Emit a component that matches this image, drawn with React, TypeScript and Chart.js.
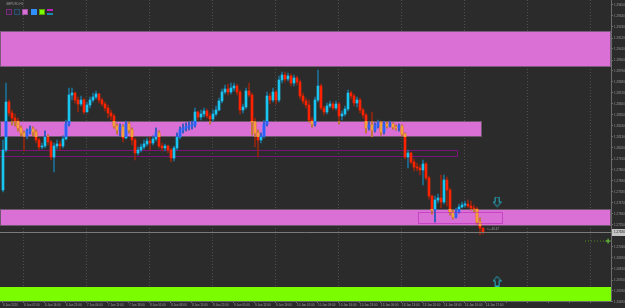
import React, { useEffect, useRef } from 'react';
import { Chart, registerables } from 'chart.js';

Chart.register(...registerables);

// ---------------- data ----------------
const symbolTitle = 'GBPUSD,H1';
const firstOpen = 1.2760;

const closes = [
  1.2800, 1.2848, 1.2837, 1.2832, 1.2829, 1.2822, 1.2817, 1.2814, 1.2819, 1.2821,
  1.2818, 1.2810, 1.2803, 1.2804, 1.2813, 1.2808, 1.2793, 1.2804, 1.2806, 1.2804,
  1.2811, 1.2826, 1.2855, 1.2857, 1.2850, 1.2846, 1.2850, 1.2838, 1.2845, 1.2850,
  1.2853, 1.2856, 1.2850, 1.2846, 1.2842, 1.2837, 1.2834, 1.2824, 1.2820, 1.2823,
  1.2812, 1.2826, 1.2820, 1.2810, 1.2797, 1.2800, 1.2803, 1.2806, 1.2809, 1.2807,
  1.2811, 1.2817, 1.2804, 1.2802, 1.2804, 1.2800, 1.2792, 1.2802, 1.2813, 1.2820,
  1.2822, 1.2823, 1.2824, 1.2825, 1.2838, 1.2833, 1.2836, 1.2839, 1.2834, 1.2831,
  1.2836, 1.2840, 1.2849, 1.2858, 1.2861, 1.2858, 1.2862, 1.2864, 1.2858, 1.2840,
  1.2843, 1.2859, 1.2855, 1.2828, 1.2817, 1.2810, 1.2814, 1.2826, 1.2854, 1.2850,
  1.2858, 1.2850, 1.2870, 1.2875, 1.2871, 1.2874, 1.2867, 1.2872, 1.2868, 1.2854,
  1.2849, 1.2845, 1.2830, 1.2826, 1.2850, 1.2864, 1.2842, 1.2838, 1.2844, 1.2846,
  1.2842, 1.2846, 1.2834, 1.2836, 1.2841, 1.2857, 1.2854, 1.2847, 1.2850, 1.2840,
  1.2835, 1.2822, 1.2825, 1.2820, 1.2824, 1.2827, 1.2818, 1.2826, 1.2824, 1.2826,
  1.2823, 1.2822, 1.2824, 1.2816, 1.2793, 1.2797, 1.2788, 1.2783, 1.2782, 1.2780,
  1.2786, 1.2772, 1.2754, 1.2740, 1.2750, 1.2752, 1.2748, 1.2770, 1.2760, 1.2738,
  1.2733, 1.2738, 1.2743, 1.2745, 1.2746, 1.2744, 1.2742, 1.2741, 1.2728, 1.2722, 1.2718,
];

const highs = [
  1.2810, 1.2867, 1.2850, 1.2840, 1.2836, 1.2832, 1.2824, 1.2819, 1.2821, 1.2824,
  1.2823, 1.2820, 1.2812, 1.2807, 1.2819, 1.2815, 1.2810, 1.2807, 1.2810, 1.2809,
  1.2814, 1.2830, 1.2862, 1.2862, 1.2858, 1.2853, 1.2854, 1.2852, 1.2848, 1.2853,
  1.2857, 1.2859, 1.2857, 1.2852, 1.2848, 1.2845, 1.2840, 1.2836, 1.2826, 1.2826,
  1.2825, 1.2829, 1.2828, 1.2822, 1.2812, 1.2803, 1.2806, 1.2810, 1.2812, 1.2813,
  1.2814, 1.2822, 1.2819, 1.2807, 1.2806, 1.2805, 1.2802, 1.2804, 1.2817, 1.2823,
  1.2826, 1.2827, 1.2828, 1.2829, 1.2842, 1.2839, 1.2840, 1.2842, 1.2841, 1.2837,
  1.2840, 1.2844, 1.2852, 1.2861, 1.2865, 1.2866, 1.2867, 1.2867, 1.2866, 1.2860,
  1.2846, 1.2862, 1.2867, 1.2857, 1.2832, 1.2820, 1.2817, 1.2830, 1.2858, 1.2857,
  1.2862, 1.2860, 1.2874, 1.2878, 1.2878, 1.2877, 1.2876, 1.2875, 1.2874, 1.2870,
  1.2857, 1.2852, 1.2850, 1.2833, 1.2853, 1.2880, 1.2866, 1.2844, 1.2847, 1.2849,
  1.2848, 1.2849, 1.2848, 1.2839, 1.2844, 1.2860, 1.2859, 1.2856, 1.2853, 1.2852,
  1.2842, 1.2837, 1.2828, 1.2838, 1.2827, 1.2830, 1.2829, 1.2829, 1.2828, 1.2829,
  1.2827, 1.2825, 1.2826, 1.2825, 1.2817, 1.2800, 1.2798, 1.2791, 1.2787, 1.2785,
  1.2790, 1.2788, 1.2774, 1.2755, 1.2754, 1.2756, 1.2775, 1.2775, 1.2773, 1.2762,
  1.2740, 1.2742, 1.2746, 1.2748, 1.2749, 1.2750, 1.2749, 1.2745, 1.2743, 1.2732, 1.2721,
];

const lows = [
  1.2758, 1.2798, 1.2834, 1.2825, 1.2824, 1.2819, 1.2814, 1.2799, 1.2811, 1.2816,
  1.2814, 1.2807, 1.2800, 1.2801, 1.2802, 1.2805, 1.2790, 1.2778, 1.2801, 1.2800,
  1.2802, 1.2810, 1.2824, 1.2850, 1.2847, 1.2838, 1.2844, 1.2836, 1.2838, 1.2842,
  1.2848, 1.2851, 1.2847, 1.2844, 1.2839, 1.2832, 1.2830, 1.2822, 1.2816, 1.2814,
  1.2808, 1.2811, 1.2817, 1.2805, 1.2790, 1.2795, 1.2798, 1.2801, 1.2804, 1.2800,
  1.2805, 1.2809, 1.2802, 1.2799, 1.2799, 1.2797, 1.2788, 1.2789, 1.2800, 1.2811,
  1.2817, 1.2819, 1.2820, 1.2821, 1.2823, 1.2830, 1.2830, 1.2833, 1.2832, 1.2826,
  1.2829, 1.2834, 1.2839, 1.2847, 1.2856, 1.2855, 1.2856, 1.2859, 1.2855, 1.2836,
  1.2837, 1.2841, 1.2853, 1.2815, 1.2803, 1.2793, 1.2807, 1.2812, 1.2824, 1.2846,
  1.2848, 1.2846, 1.2848, 1.2867, 1.2868, 1.2869, 1.2864, 1.2864, 1.2865, 1.2851,
  1.2846, 1.2842, 1.2828, 1.2823, 1.2824, 1.2848, 1.2840, 1.2835, 1.2836, 1.2842,
  1.2840, 1.2840, 1.2826, 1.2830, 1.2834, 1.2839, 1.2851, 1.2844, 1.2843, 1.2837,
  1.2832, 1.2817, 1.2820, 1.2813, 1.2818, 1.2822, 1.2815, 1.2816, 1.2822, 1.2823,
  1.2821, 1.2820, 1.2819, 1.2814, 1.2791, 1.2782, 1.2786, 1.2779, 1.2779, 1.2775,
  1.2765, 1.2770, 1.2751, 1.2736, 1.2728, 1.2747, 1.2742, 1.2746, 1.2744, 1.2735,
  1.2731, 1.2732, 1.2737, 1.2742, 1.2743, 1.2742, 1.2740, 1.2738, 1.2726, 1.2715, 1.2716,
];

const timeLabels = [
  '6 Jan 2020', '6 Jan 07:00', '6 Jan 14:00', '6 Jan 21:00', '7 Jan 04:00', '7 Jan 11:00',
  '7 Jan 18:00', '8 Jan 01:00', '8 Jan 08:00', '8 Jan 15:00', '8 Jan 22:00', '9 Jan 05:00',
  '9 Jan 12:00', '9 Jan 19:00', '10 Jan 02:00', '10 Jan 09:00', '10 Jan 16:00', '10 Jan 23:00',
  '13 Jan 06:00', '13 Jan 13:00', '13 Jan 20:00', '14 Jan 03:00', '14 Jan 10:00', '14 Jan 17:00',
];
const xTickIndex = [
  0, 7, 14, 21, 28, 35, 42, 49, 56, 63, 70, 77, 84, 91, 98, 105, 112, 119, 126, 133,
  140, 147, 154, 161, 168, 175, 182, 189, 196,
];
const yTickValues = [
  1.2945, 1.2934, 1.2923, 1.2912, 1.2901, 1.2890, 1.2879, 1.2868, 1.2857, 1.2846,
  1.2835, 1.2824, 1.2813, 1.2802, 1.2791, 1.2780, 1.2769, 1.2758, 1.2747, 1.2736,
  1.2725, 1.2703, 1.2692, 1.2681, 1.2670, 1.2659, 1.2648,
];

// supply / demand zones (price range, bar-index range; null = open to the edge)
const zoneHigh = [1.2919, 1.2829, 1.2741, 1.2663];
const zoneLow = [1.2883, 1.2813, 1.2724, 1.2600];
const zoneStart: (number | null)[] = [null, null, null, null];
const zoneEnd: (number | null)[] = [null, 159.7, null, null];

const outlineHigh = 1.2800;
const outlineLow = 1.2794;
const outlineEnd = 151.3;

const boxHigh = 1.2738;
const boxLow = 1.2727;
const boxStart = 138.3;
const boxEnd = 166.3;

const arrowIndex = [164.7, 164.7];
const arrowPrice = [1.2748, 1.2669];
const arrowDir = ['down', 'up'];

const levelFrom = 194;
const levelTo = 201.7;
const levelPrice = 1.2709;

const noteIndex = 161.3;
const notePrice = 1.2721;
const noteText = '<-- 46.47';

// ---------------- styles ----------------
const BG = '#2b2b2b';
const AXIS = '#6c6c6c';
const TEXT = '#9c9c9c';
const FONT = 'Liberation Sans';
const zoneFill = ['#da70d6', '#da70d6', '#da70d6', '#7cfc00'];
const zoneStroke = ['#7a5a7a', '#6e566e', '#6e566e', null];
const zoneTint = [true, true, true, false];
const C = {
  bullBody: '#19c6f2', bearBody: '#ff2200',
  bullWick: '#1b6f96', bearWick: '#93260e',
  bullZone: '#2f5dff', bearZone: '#f2a23a',
  bullZoneWick: '#3a58c8', bearZoneWick: '#c88a3a',
};

function zoneRects(chart: any) {
  const xs = chart.scales.x;
  const ys = chart.scales.y;
  const a = chart.chartArea;
  return zoneHigh.map((h, k) => {
    const s = zoneStart[k];
    const e = zoneEnd[k];
    const left = s == null ? a.left : Math.max(a.left, Math.round(xs.getPixelForValue(s)));
    const right = e == null ? a.right : Math.min(a.right, Math.round(xs.getPixelForValue(e)));
    const top = Math.round(ys.getPixelForValue(h));
    const bottom = Math.min(a.bottom, Math.round(ys.getPixelForValue(zoneLow[k])));
    return { left, right, top, bottom };
  });
}

const zonesPlugin = {
  id: 'zones',
  beforeDatasetsDraw(chart: any) {
    const ctx = chart.ctx;
    const a = chart.chartArea;
    const xs = chart.scales.x;
    const ys = chart.scales.y;
    ctx.save();
    zoneRects(chart).forEach((r, k) => {
      ctx.fillStyle = zoneFill[k];
      ctx.fillRect(r.left, r.top, r.right - r.left, r.bottom - r.top);
      const st = zoneStroke[k];
      if (st) {
        ctx.strokeStyle = st;
        ctx.lineWidth = 1;
        ctx.strokeRect(r.left + 0.5, r.top + 0.5, r.right - r.left - 1, r.bottom - r.top - 1);
      }
    });
    // thin purple outline zone
    const t = Math.round(ys.getPixelForValue(outlineHigh)) + 0.5;
    const b = Math.round(ys.getPixelForValue(outlineLow)) + 0.5;
    const r = Math.round(xs.getPixelForValue(outlineEnd)) + 0.5;
    ctx.strokeStyle = '#7c137c';
    ctx.lineWidth = 1;
    ctx.strokeRect(a.left - 1, t, r - a.left + 1, b - t);
    ctx.restore();
  },
};

const zoneClipPlugin = {
  id: 'zoneClip',
  beforeDatasetDraw(chart: any, args: any) {
    const ds = chart.data.datasets[args.index];
    if (!ds.zoneTint) return;
    const ctx = chart.ctx;
    ctx.save();
    ctx.beginPath();
    zoneRects(chart).forEach((r, k) => {
      if (zoneTint[k]) ctx.rect(r.left, r.top, r.right - r.left, r.bottom - r.top);
    });
    ctx.clip();
  },
  afterDatasetDraw(chart: any, args: any) {
    const ds = chart.data.datasets[args.index];
    if (ds.zoneTint) chart.ctx.restore();
  },
};

const bid = closes[closes.length - 1];

const overlayPlugin = {
  id: 'overlay',
  afterDatasetsDraw(chart: any) {
    const ctx = chart.ctx;
    const a = chart.chartArea;
    const xs = chart.scales.x;
    const ys = chart.scales.y;
    ctx.save();
    // bid line
    const by = Math.round(ys.getPixelForValue(bid)) + 0.5;
    ctx.strokeStyle = '#7a7a7a';
    ctx.lineWidth = 1;
    ctx.beginPath();
    ctx.moveTo(a.left, by);
    ctx.lineTo(a.right, by);
    ctx.stroke();
    // dotted rectangle
    const l = Math.round(xs.getPixelForValue(boxStart)) + 0.5;
    const r = Math.round(xs.getPixelForValue(boxEnd)) + 0.5;
    const t = Math.round(ys.getPixelForValue(boxHigh)) + 0.5;
    const b = Math.round(ys.getPixelForValue(boxLow)) + 0.5;
    ctx.setLineDash([1, 1]);
    ctx.strokeStyle = '#b018b0';
    ctx.strokeRect(l, t, r - l, b - t);
    ctx.setLineDash([]);
    // note text
    ctx.fillStyle = '#9a9a9a';
    ctx.font = `3px "${FONT}"`;
    ctx.textBaseline = 'middle';
    ctx.textAlign = 'left';
    ctx.fillText(noteText, xs.getPixelForValue(noteIndex), ys.getPixelForValue(notePrice));
    ctx.restore();
  },
  afterDraw(chart: any) {
    const ctx = chart.ctx;
    const a = chart.chartArea;
    const ys = chart.scales.y;
    const by = Math.round(ys.getPixelForValue(bid));
    ctx.save();
    ctx.fillStyle = '#c4c4c4';
    ctx.fillRect(a.right + 1, by - 3, chart.width - a.right - 1, 7);
    ctx.fillStyle = '#1a1a1a';
    ctx.font = `3px "${FONT}"`;
    ctx.textBaseline = 'middle';
    ctx.textAlign = 'left';
    ctx.fillText(bid.toFixed(5), a.right + 3, by + 0.5);
    ctx.restore();
  },
};

function makeArrow(dir: string): HTMLCanvasElement {
  const c = document.createElement('canvas');
  c.width = 9;
  c.height = 11;
  const g = c.getContext('2d')!;
  g.strokeStyle = '#22b5c8';
  g.lineWidth = 1;
  g.beginPath();
  if (dir === 'down') {
    g.moveTo(2.5, 0.5); g.lineTo(6.5, 0.5); g.lineTo(6.5, 5.5); g.lineTo(8.5, 5.5);
    g.lineTo(4.5, 10.2); g.lineTo(0.5, 5.5); g.lineTo(2.5, 5.5);
  } else {
    g.moveTo(2.5, 10.5); g.lineTo(6.5, 10.5); g.lineTo(6.5, 5.5); g.lineTo(8.5, 5.5);
    g.lineTo(4.5, 0.8); g.lineTo(0.5, 5.5); g.lineTo(2.5, 5.5);
  }
  g.closePath();
  g.stroke();
  return c;
}

export default function App() {
  const ref = useRef<HTMLCanvasElement>(null);

  useEffect(() => {
    const opens = closes.map((_, i) => (i === 0 ? firstOpen : closes[i - 1]));
    const bull = closes.map((c, i) => c >= opens[i]);
    const hi = closes.map((c, i) => Math.max(highs[i], c, opens[i]));
    const lo = closes.map((c, i) => Math.min(lows[i], c, opens[i]));
    const wickData = closes.map((_, i) => ({ x: i, y: [lo[i], hi[i]] }));
    const bodyData = closes.map((c, i) => ({ x: i, y: [opens[i], c] }));

    const bar = (data: any, thick: number, colors: string[], order: number, tint: boolean) => ({
      type: 'bar',
      data,
      backgroundColor: colors,
      borderWidth: 0,
      barThickness: thick,
      grouped: false,
      minBarLength: 1,
      order,
      zoneTint: tint,
    });

    const chart = new Chart(ref.current!, {
      type: 'bar',
      data: {
        datasets: [
          bar(wickData, 1, bull.map((b) => (b ? C.bullWick : C.bearWick)), 5, false),
          bar(bodyData, 2, bull.map((b) => (b ? C.bullBody : C.bearBody)), 4, false),
          bar(wickData, 1, bull.map((b) => (b ? C.bullZoneWick : C.bearZoneWick)), 3, true),
          bar(bodyData, 2, bull.map((b) => (b ? C.bullZone : C.bearZone)), 2, true),
          {
            type: 'line',
            data: [{ x: levelFrom, y: levelPrice }, { x: levelTo, y: levelPrice }],
            borderColor: '#4f8f22',
            borderWidth: 1,
            borderDash: [1, 2],
            pointRadius: [0, 2.5],
            pointStyle: 'cross',
            pointBorderColor: '#6fd23a',
            pointBorderWidth: 1,
            order: 1,
          },
          {
            type: 'scatter',
            data: arrowIndex.map((x, k) => ({ x, y: arrowPrice[k] })),
            pointStyle: arrowDir.map((d) => makeArrow(d)),
            pointRadius: 5,
            order: 0,
          },
        ] as any,
      },
      options: {
        animation: false,
        responsive: false,
        devicePixelRatio: 1,
        events: [],
        layout: { padding: 0, autoPadding: false },
        plugins: { legend: { display: false }, tooltip: { enabled: false } },
        scales: {
          x: {
            type: 'linear',
            min: -1,
            max: 202.67,
            offset: false,
            afterBuildTicks: (s: any) => {
              s.ticks = xTickIndex.map((v) => ({ value: v }));
            },
            afterFit: (s: any) => {
              s.height = 7;
              s.paddingLeft = 0;
              s.paddingRight = 0;
            },
            grid: {
              offset: false,
              color: (c: any) => (c.tick && (c.tick.value - 7) % 21 === 0 ? '#4e4e4e' : 'rgba(0,0,0,0)'),
              lineWidth: 1,
              drawTicks: true,
              tickLength: 2,
              tickColor: AXIS,
            },
            border: { display: true, color: AXIS, dash: [1, 2] },
            ticks: {
              autoSkip: false,
              maxRotation: 0,
              minRotation: 0,
              align: 'start',
              padding: 0,
              color: TEXT,
              font: { size: 3, family: FONT },
              callback: (_v: any, i: number) => timeLabels[i] ?? '',
            },
          },
          y: {
            type: 'linear',
            position: 'right',
            min: 1.2649,
            max: 1.2950,
            afterBuildTicks: (s: any) => {
              s.ticks = yTickValues.map((v) => ({ value: v }));
            },
            afterFit: (s: any) => {
              s.width = 14;
              s.paddingTop = 0;
              s.paddingBottom = 0;
            },
            grid: { drawOnChartArea: false, drawTicks: true, tickLength: 2, tickColor: AXIS, color: AXIS },
            border: { display: true, color: AXIS },
            ticks: {
              autoSkip: false,
              padding: 1,
              color: TEXT,
              font: { size: 3, family: FONT },
              callback: (v: any) => Number(v).toFixed(5),
            },
          },
        },
      } as any,
      plugins: [zonesPlugin, zoneClipPlugin, overlayPlugin],
    });
    return () => chart.destroy();
  }, []);

  const sq = (left: number, style: any) => (
    <div style={{ position: 'absolute', left, top: 9, width: 6, height: 6, boxSizing: 'border-box', ...style }} />
  );

  return (
    <div style={{ position: 'fixed', left: 0, top: 0, width: 625, height: 308, background: BG, overflow: 'hidden' }}>
      <canvas ref={ref} width={625} height={308} style={{ display: 'block', width: 625, height: 308 }} />
      <div style={{ position: 'absolute', left: 6, top: 2, fontFamily: FONT, fontSize: 3, lineHeight: '4px', color: TEXT, whiteSpace: 'nowrap' }}>
        {symbolTitle}
      </div>
      {sq(6, { border: '1px solid #7a2a7a', background: '#33293a' })}
      {sq(14, { border: '1px solid #2a5070', background: '#2a3038' })}
      {sq(22, { border: '1px solid #9a509a', background: '#da70d6' })}
      {sq(31, { background: '#2f8fff' })}
      {sq(39, { border: '1px solid #5aa000', background: '#7cfc00' })}
      <div style={{ position: 'absolute', left: 47, top: 9, width: 6, height: 2, background: '#c020c0' }} />
      <div style={{ position: 'absolute', left: 47, top: 13, width: 6, height: 2, background: '#1e88b0' }} />
    </div>
  );
}
